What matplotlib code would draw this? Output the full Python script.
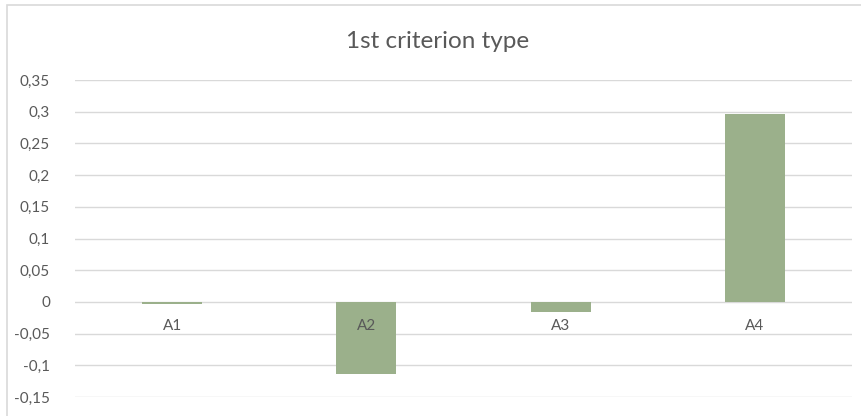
import matplotlib.pyplot as plt
import matplotlib.patches as mpatches
from matplotlib.ticker import FuncFormatter, MultipleLocator

plt.rcParams['font.family'] = ['Lato', 'DejaVu Sans']

categories = ["A1", "A2", "A3", "A4"]
values = [-0.004, -0.114, -0.016, 0.297]
title = "1st criterion type"

BAR_COLOR = '#9bb08b'
GRID_COLOR = '#d9d9d9'
TEXT_COLOR = '#595959'

fig = plt.figure(figsize=(8.61, 4.16), dpi=100)
ax = fig.add_axes([75 / 861, 1 - 397 / 416, (852 - 75) / 861, (397 - 80) / 416])

# chart frame (excel style border, partly cut off on the right and bottom)
fig.patches.append(mpatches.Rectangle((7 / 861, -0.1), 1.2, 1 - 5 / 416 + 0.1,
                                      transform=fig.transFigure, fill=False,
                                      edgecolor=GRID_COLOR, linewidth=1.2))

x = list(range(len(categories)))
ax.bar(x, values, width=0.31, color=BAR_COLOR, zorder=3)

ax.set_xlim(-0.5, len(categories) - 0.5)
ax.set_ylim(-0.15, 0.35)
ax.yaxis.set_major_locator(MultipleLocator(0.05))
ax.yaxis.set_major_formatter(FuncFormatter(lambda v, p: ("%g" % round(v, 2)).replace('.', ',')))
ax.grid(axis='y', color=GRID_COLOR, linewidth=1, zorder=0)
ax.tick_params(axis='y', length=0, pad=18, labelsize=11, labelcolor=TEXT_COLOR)
ax.set_xticks([])
for s in ax.spines.values():
    s.set_visible(False)

for i, c in enumerate(categories):
    ax.annotate(c, (i, 0), xytext=(0, -17.5), textcoords='offset points',
                ha='center', va='center', fontsize=11, color=TEXT_COLOR)

fig.text(438 / 861, 1 - 41 / 416, title, ha='center', va='center',
         fontsize=17.5, color=TEXT_COLOR)

fig.savefig("out.png", dpi=100)
